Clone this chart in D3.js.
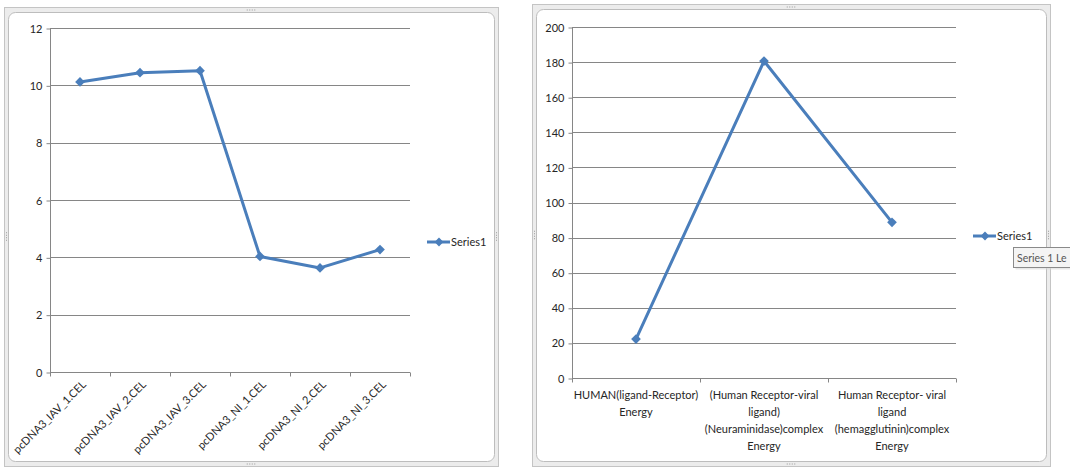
<!DOCTYPE html>
<html>
<head>
<meta charset="utf-8">
<script src="https://cdn.jsdelivr.net/npm/d3@7"></script>
<style>
  html, body { margin: 0; padding: 0; background: #fff; }
  svg { display: block; font-family: Lato, "Open Sans", sans-serif; }
</style>
</head>
<body>
<svg id="chart" width="1070" height="468"></svg>
<script>
// Expression chart
const leftCategories = ["pcDNA3_IAV_1.CEL", "pcDNA3_IAV_2.CEL", "pcDNA3_IAV_3.CEL",
                        "pcDNA3_NI_1.CEL", "pcDNA3_NI_2.CEL", "pcDNA3_NI_3.CEL"];
const leftValues = [10.12, 10.44, 10.51, 4.03, 3.63, 4.27];
const leftTicks = [0, 2, 4, 6, 8, 10, 12];

// Energy chart
const rightCategories = [
  ["HUMAN(ligand-Receptor)", "Energy"],
  ["(Human Receptor-viral", "ligand)", "(Neuraminidase)complex", "Energy"],
  ["Human Receptor- viral", "ligand", "(hemagglutinin)complex", "Energy"]
];
const rightValues = [22.2, 180.6, 88.7];
const rightTicks = [0, 20, 40, 60, 80, 100, 120, 140, 160, 180, 200];

const seriesName = "Series1";
const tooltipText = "Series 1 Le";
const lineColor = "#4a7ebb";
const gridColor = "#868686";
const axisColor = "#868686";
const textColor = "#262626";

const svg = d3.select("#chart");

// Chart container with grey border and rounded inner face
function drawFrame(x, y, w, h) {
  const g = svg.append("g");
  g.append("rect").attr("x", x + 0.5).attr("y", y + 0.5).attr("width", w).attr("height", h)
    .attr("fill", "#ececec").attr("stroke", "#c4c4c4");
  g.append("rect").attr("x", x + 4.5).attr("y", y + 5.5).attr("width", w - 8).attr("height", h - 10)
    .attr("rx", 7).attr("fill", "#fff").attr("stroke", "#bdbdbd");
  // resize grips
  const grips = [[x + w / 2, y + 3, "h"], [x + 2.5, y + h / 2, "v"], [x + w - 1.5, y + h / 2, "v"], [x + w / 2, y + h - 2, "h"]];
  grips.forEach(([gx, gy, o]) => {
    for (let i = -1.5; i <= 1.5; i++) {
      g.append("rect")
        .attr("x", o === "h" ? gx + i * 2.5 - 0.5 : gx - 0.5)
        .attr("y", o === "h" ? gy - 0.5 : gy + i * 2.5 - 0.5)
        .attr("width", 1).attr("height", 1).attr("fill", "#9a9a9a");
    }
  });
}

function diamond(sel, size) {
  return sel.attr("d", d3.symbol().type(d3.symbolDiamond2).size(size)());
}

function drawChart(opts) {
  const { x0, x1, yTop, yBottom, categories, values, ticks, domain } = opts;
  const g = svg.append("g");
  const xScale = d3.scaleBand().domain(d3.range(categories.length)).range([x0, x1]);
  const yScale = d3.scaleLinear().domain(domain).range([yBottom, yTop]);

  // horizontal gridlines
  g.append("g").selectAll("line").data(ticks.filter(t => t !== 0)).join("line")
    .attr("x1", x0).attr("x2", x1)
    .attr("y1", d => Math.round(yScale(d)) + 0.5).attr("y2", d => Math.round(yScale(d)) + 0.5)
    .attr("stroke", gridColor).attr("stroke-width", 1);

  // y axis
  const yAxis = d3.axisLeft(yScale).tickValues(ticks).tickSize(4).tickPadding(4);
  const ya = g.append("g").attr("transform", `translate(${x0 + 0.5},0.5)`).call(yAxis);
  ya.select(".domain").attr("stroke", axisColor).attr("d", `M0,${yScale(domain[1])}V${yScale(0)}`);
  ya.selectAll(".tick line").attr("stroke", axisColor);
  ya.selectAll(".tick text").attr("fill", textColor).style("font-size", "11px").style("font-family", "Lato, sans-serif");

  // x axis line and category boundary ticks
  const yb = Math.round(yScale(0)) + 0.5;
  g.append("line").attr("x1", x0).attr("x2", x1).attr("y1", yb).attr("y2", yb).attr("stroke", axisColor);
  const bounds = d3.range(categories.length + 1).map(i => i < categories.length ? xScale(i) : x1);
  g.append("g").selectAll("line").data(bounds).join("line")
    .attr("x1", d => Math.round(d) + 0.5).attr("x2", d => Math.round(d) + 0.5)
    .attr("y1", yb).attr("y2", yb + 4).attr("stroke", axisColor);

  // series line
  const cx = i => xScale(i) + xScale.bandwidth() / 2;
  const line = d3.line().x((d, i) => cx(i)).y(d => yScale(d));
  g.append("path").datum(values).attr("d", line)
    .attr("fill", "none").attr("stroke", lineColor).attr("stroke-width", 3)
    .attr("stroke-linejoin", "round");
  g.append("g").selectAll("path").data(values).join("path")
    .call(diamond, 60)
    .attr("transform", (d, i) => `translate(${cx(i)},${yScale(d)})`)
    .attr("fill", lineColor);

  return { g, xScale, yScale, cx, yb };
}

function drawLegend(x, y) {
  const g = svg.append("g");
  g.append("line").attr("x1", x).attr("x2", x + 23).attr("y1", y).attr("y2", y)
    .attr("stroke", lineColor).attr("stroke-width", 3);
  g.append("path").call(diamond, 50).attr("transform", `translate(${x + 12},${y})`).attr("fill", lineColor);
  g.append("text").attr("x", x + 24).attr("y", y).attr("dy", "0.35em")
    .attr("fill", textColor).style("font-size", "11px").text(seriesName);
}

// ---- left chart ----
drawFrame(4, 7, 494, 459);
const left = drawChart({
  x0: 50, x1: 410, yTop: 28, yBottom: 372,
  categories: leftCategories, values: leftValues, ticks: leftTicks, domain: [0, 12]
});
left.g.append("g").selectAll("text").data(leftCategories).join("text")
  .attr("transform", (d, i) => `translate(${left.cx(i) + 4},${left.yb + 10}) rotate(-45)`)
  .attr("text-anchor", "end").attr("dy", "0.35em")
  .attr("fill", textColor).style("font-size", "11px")
  .text(d => d);
drawLegend(427, 242);

// ---- right chart ----
drawFrame(532, 4, 518, 462);
const right = drawChart({
  x0: 572, x1: 956, yTop: 27, yBottom: 378,
  categories: rightCategories, values: rightValues, ticks: rightTicks, domain: [0, 200]
});
const labels = right.g.append("g").selectAll("text").data(rightCategories).join("text")
  .attr("text-anchor", "middle").attr("fill", textColor).style("font-size", "11px");
labels.each(function (lines, i) {
  d3.select(this).selectAll("tspan").data(lines).join("tspan")
    .attr("x", right.cx(i)).attr("y", (d, j) => right.yb + 17 + j * 17)
    .attr("dy", "0.35em").text(d => d);
});
drawLegend(973, 236);

// hover tooltip on the legend entry
const tip = svg.append("g");
tip.append("rect").attr("x", 1015.5).attr("y", 249.5).attr("width", 60).attr("height", 20)
  .attr("fill", "#d8d8d8").attr("opacity", 0.6);
tip.append("rect").attr("x", 1013.5).attr("y", 247.5).attr("width", 60).attr("height", 20)
  .attr("fill", "#f4f4f4").attr("stroke", "#8a8a8a");
tip.append("text").attr("x", 1017).attr("y", 258).attr("dy", "0.35em")
  .attr("fill", "#555").style("font-size", "10.5px").text(tooltipText);
</script>
</body>
</html>
